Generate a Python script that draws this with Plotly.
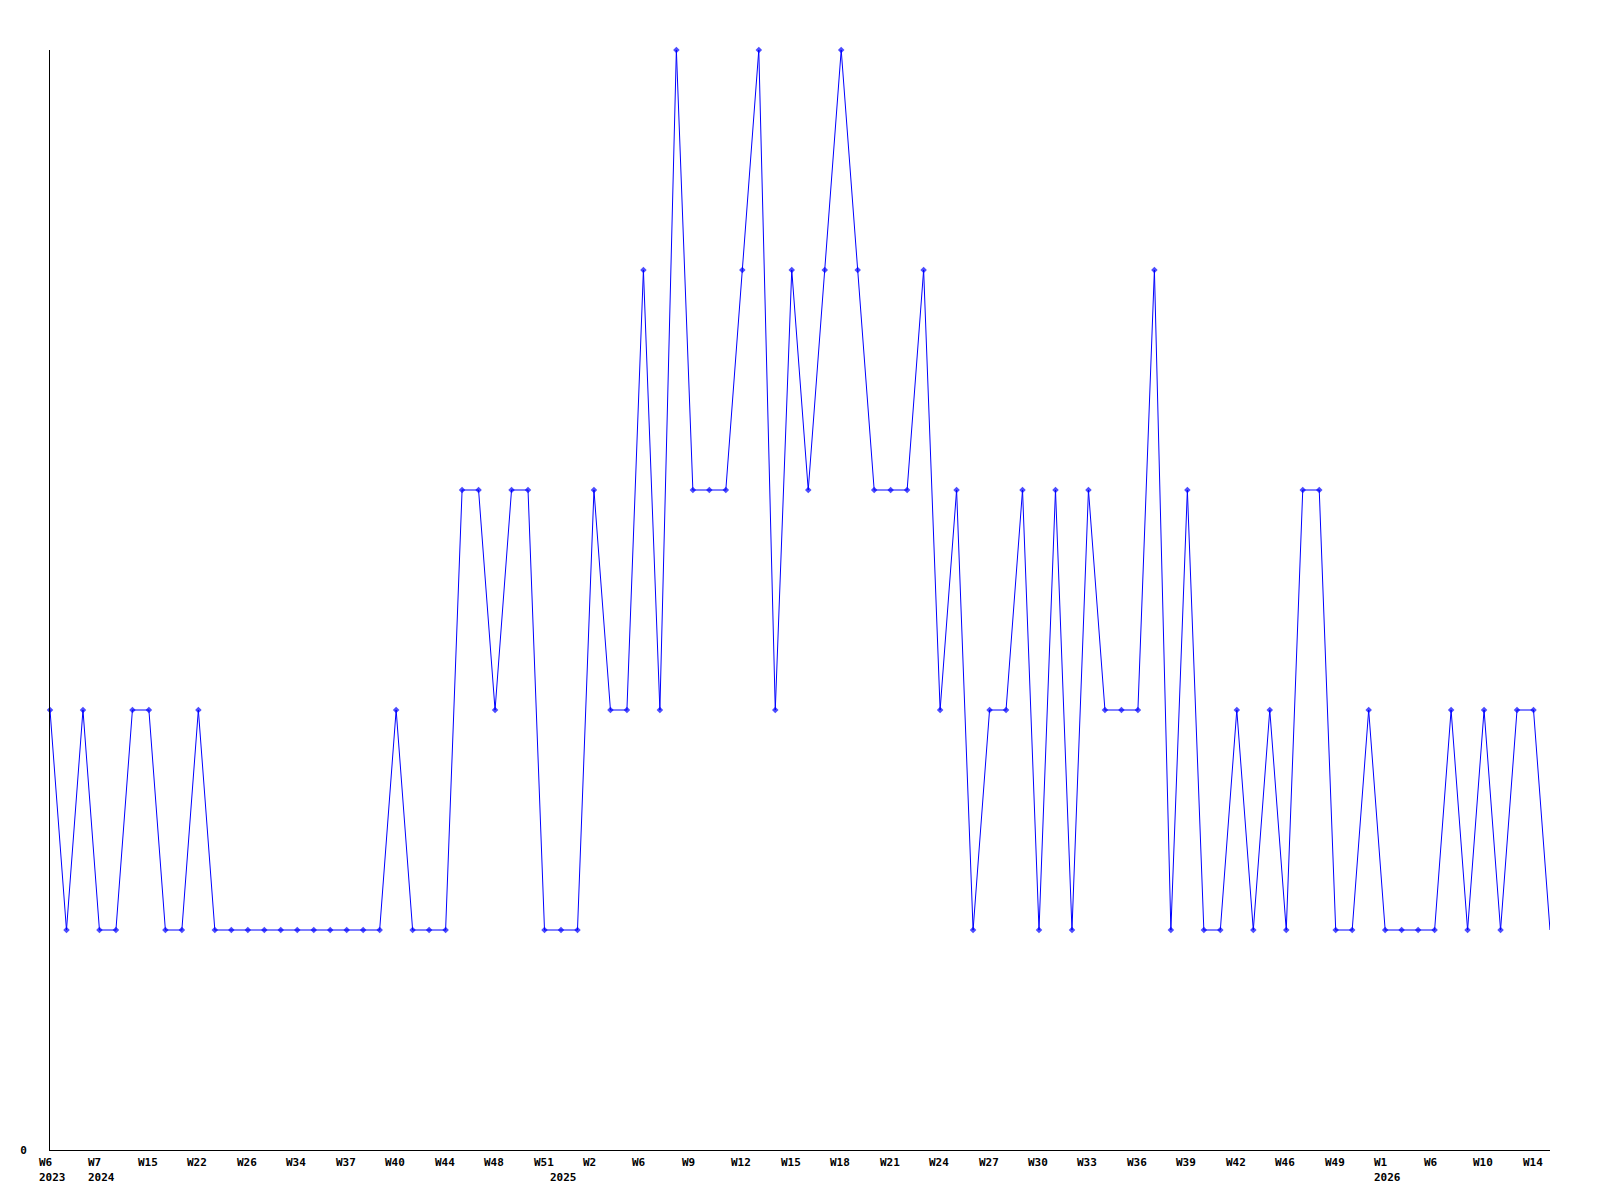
import plotly.graph_objects as go

# weekly counts, one per point
counts = [
    2, 1, 2, 1, 1, 2, 2, 1, 1, 2, 1, 1, 1, 1, 1, 1, 1, 1, 1, 1, 1, 2, 1, 1, 1,
    3, 3, 2, 3, 3, 1, 1, 1, 3, 2, 2, 4, 2, 5, 3, 3, 3, 4, 5, 2, 4, 3, 4, 5, 4,
    3, 3, 3, 4, 2, 3, 1, 2, 2, 3, 1, 3, 1, 3, 2, 2, 2, 4, 1, 3, 1, 1, 2, 1, 2,
    1, 3, 3, 1, 1, 2, 1, 1, 1, 1, 2, 1, 2, 1, 2, 2, 1,
]

week_tick_pos = [0, 3, 6, 9, 12, 15, 18, 21, 24, 27, 30, 33, 36, 39, 42, 45,
                 48, 51, 54, 57, 60, 63, 66, 69, 72, 75, 78, 81, 84, 87, 90]
week_tick_text = ["W6", "W7", "W15", "W22", "W26", "W34", "W37", "W40", "W44",
                  "W48", "W51", "W2", "W6", "W9", "W12", "W15", "W18", "W21",
                  "W24", "W27", "W30", "W33", "W36", "W39", "W42", "W46", "W49",
                  "W1", "W6", "W10", "W14"]

year_pos = [0, 3, 31, 81]
year_text = ["2023", "2024", "2025", "2026"]

FONT = dict(family="DejaVu Sans Mono", size=11, color="#000000", weight="bold")
BLUE = "#0000ff"

x_idx = list(range(len(counts)))
# the last point is drawn without a marker in the original
marker_sizes = [5] * (len(counts) - 1) + [0]

fig = go.Figure()
fig.add_trace(go.Scatter(
    x=x_idx, y=counts,
    mode="lines+markers",
    line=dict(color=BLUE, width=1),
    marker=dict(symbol="diamond", size=marker_sizes, color=BLUE, line=dict(width=0)),
    cliponaxis=False,
    hoverinfo="skip",
    showlegend=False,
))

annotations = []
for pos, txt in zip(week_tick_pos, week_tick_text):
    annotations.append(dict(
        x=pos, y=0, xref="x", yref="paper", text=txt, showarrow=False,
        xanchor="left", yanchor="top", xshift=-13, yshift=-4, font=FONT,
    ))
for pos, txt in zip(year_pos, year_text):
    annotations.append(dict(
        x=pos, y=0, xref="x", yref="paper", text=txt, showarrow=False,
        xanchor="left", yanchor="top", xshift=-13, yshift=-19, font=FONT,
    ))

# page body has an 8px margin, so size/margins are trimmed to keep the
# plot area at 50..1550 x 50..1150 in the window
fig.update_layout(
    width=1584, height=1184,
    paper_bgcolor="#ffffff", plot_bgcolor="#ffffff",
    margin=dict(l=42, r=42, t=42, b=42),
    font=FONT,
    xaxis=dict(
        range=[0, len(counts) - 1],
        showgrid=False, zeroline=False,
        showline=True, linecolor="#000000", linewidth=1,
        showticklabels=False, ticks="",
        automargin=False,
    ),
    yaxis=dict(
        range=[0, 5],
        showgrid=False, zeroline=False,
        showline=True, linecolor="#000000", linewidth=1,
        tickvals=[0], ticktext=["0"], ticks="",
        ticklabelstandoff=20,
        automargin=False,
    ),
    annotations=annotations,
)

fig.write_html("out.html")
